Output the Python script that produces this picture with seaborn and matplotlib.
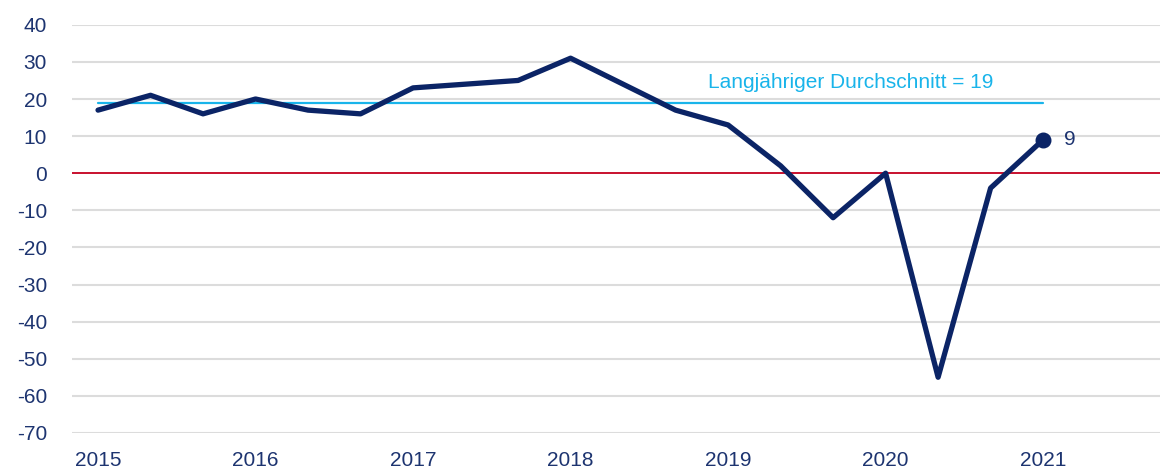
import numpy as np
import pandas as pd
import matplotlib
matplotlib.use("Agg")
import matplotlib.pyplot as plt
import seaborn as sns

# Data (four-monthly readings, 2015 - 2021)
values = [17, 21, 16, 20, 17, 16, 23, 24, 25, 31, 24, 17, 13, 2, -12, 0, -55, -4, 9]
periods = [2015 + i / 3 for i in range(len(values))]
year_ticks = [2015, 2016, 2017, 2018, 2019, 2020, 2021]
y_ticks = [40, 30, 20, 10, 0, -10, -20, -30, -40, -50, -60, -70]
long_term_avg = 19
avg_label = "Langjähriger Durchschnitt = 19"

df = pd.DataFrame({"period": periods, "value": values})

navy = "#0b2466"
text_navy = "#1d3470"
light_blue = "#19b4ea"
red = "#c8102e"
grid_grey = "#dcdcdc"

sns.set_theme(style="white")
plt.rcParams["font.family"] = ["Liberation Sans", "DejaVu Sans"]
plt.rcParams["axes.unicode_minus"] = False

fig = plt.figure(figsize=(11.62, 4.68), dpi=100)
ax = fig.add_axes([0.062, 0.075, 0.936, 0.872])

# Grid
for t in y_ticks:
    if t != 0:
        ax.axhline(t, color=grid_grey, lw=1.5, zorder=0)
ax.axhline(0, color=red, lw=1.4, zorder=1)

# Long term average
ax.plot([periods[0], periods[-1]], [long_term_avg, long_term_avg], color=light_blue, lw=1.6, zorder=2)
ax.text(2018.87, 22.0, avg_label, color=light_blue, fontsize=15, ha="left", va="bottom")

# Main series
sns.lineplot(data=df, x="period", y="value", ax=ax, color=navy, lw=3.8, zorder=3)
ax.scatter([periods[-1]], [values[-1]], s=110, color=navy, zorder=4)
ax.text(periods[-1] + 0.13, values[-1], str(values[-1]), color=text_navy, fontsize=15, ha="left", va="center")

ax.set_xlim(2014.835, 2021.74)
ax.set_ylim(-70, 40)
ax.set_xticks(year_ticks)
ax.set_xticklabels([str(y) for y in year_ticks])
ax.set_yticks(y_ticks)
ax.set_xlabel("")
ax.set_ylabel("")
ax.tick_params(axis="both", length=0, labelsize=15, colors=text_navy)
ax.tick_params(axis="y", pad=18)
ax.tick_params(axis="x", pad=13)
for s in ax.spines.values():
    s.set_visible(False)

fig.savefig("out.png", dpi=100)
